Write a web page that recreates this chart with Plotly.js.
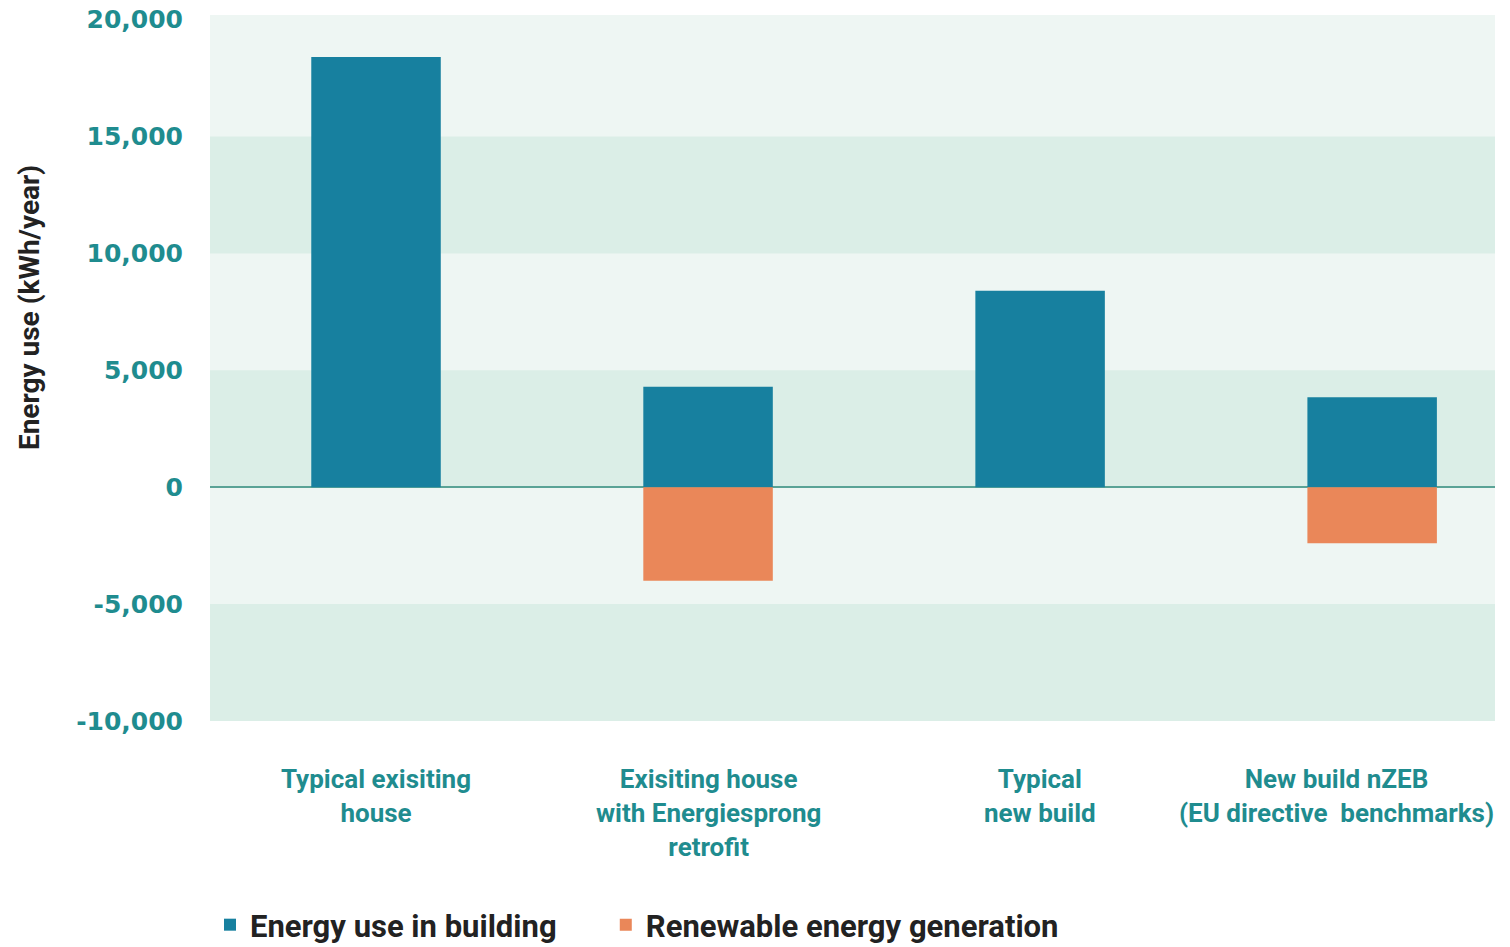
<!DOCTYPE html>
<html>
<head>
<meta charset="utf-8">
<script src="https://cdn.plot.ly/plotly-3.0.1.min.js"></script>
<style>html,body{margin:0;padding:0;background:#fff;}#chart{width:1510px;height:947px;}</style>
</head>
<body>
<div id="chart"></div>
<script>
const categories = ["Typical exisiting<br>house", "Exisiting house<br>with Energiesprong<br>retrofit", "Typical<br>new build", "New build nZEB<br>(EU directive  benchmarks)"];
const energyUse = [18400, 4300, 8400, 3850];
const renewable = [0, -4000, 0, -2400];
const seriesNames = ["Energy use in building", "Renewable energy generation"];
const yTickVals = [-10000, -5000, 0, 5000, 10000, 15000, 20000];
const yTickText = ["-10,000", "-5,000", "0", "5,000", "10,000", "15,000", "20,000"];
const bandEdges = [[10000, 15000], [0, 5000], [-10000, -5000]];

const idx = categories.map((c, i) => i);
const narrow = "Roboto, 'Liberation Sans Narrow', sans-serif";
const teal = "#1f8c8f";

const traces = [
  {type: "bar", name: seriesNames[0], x: idx, y: energyUse, width: 0.39,
   marker: {color: "#17809f"}, hoverinfo: "y", legend: "legend"},
  {type: "bar", name: seriesNames[1], x: idx, y: renewable, width: 0.39,
   marker: {color: "#ea8759"}, hoverinfo: "y", legend: "legend2"}
];

const shapes = bandEdges.map(b => ({type: "rect", xref: "paper", yref: "y", x0: 0, x1: 1,
  y0: b[0], y1: b[1], fillcolor: "#dbeee7", line: {width: 0}, layer: "below"}));

const labelShift = [0, 0, 0, -36];
const catAnnotations = categories.map((c, i) => ({
  text: c, xref: "x", yref: "paper", x: idx[i], y: -0.058, xanchor: "center", yanchor: "top",
  xshift: labelShift[i], showarrow: false, align: "center",
  font: {family: narrow, size: 26, color: teal, weight: "bold"}
}));

const legendFont = {family: narrow, size: 31, color: "#222222", weight: "bold"};

const layout = {
  width: 1510, height: 947,
  margin: {l: 210, r: 15, t: 15, b: 225.5, autoexpand: false},
  paper_bgcolor: "#ffffff",
  plot_bgcolor: "#eef6f3",
  barmode: "relative",
  showlegend: true,
  legend: {orientation: "h", x: 0.0, xanchor: "left", y: -0.289, yanchor: "middle",
    font: legendFont, itemwidth: 30},
  legend2: {orientation: "h", x: 0.308, xanchor: "left", y: -0.289, yanchor: "middle",
    font: legendFont, itemwidth: 30},
  xaxis: {range: [-0.5, 3.37], tickvals: idx, showticklabels: false, showgrid: false,
    zeroline: false, ticks: ""},
  yaxis: {range: [-10000, 20200], tickvals: yTickVals, ticktext: yTickText, showgrid: false,
    zeroline: true, zerolinecolor: "#5aa396", zerolinewidth: 2,
    ticks: "outside", ticklen: 21, tickcolor: "rgba(0,0,0,0)",
    tickfont: {family: "'DejaVu Sans', sans-serif", size: 25, color: teal, weight: "bold"}},
  shapes: shapes,
  annotations: [{text: "Energy use (kWh/year)", xref: "paper", yref: "paper",
    x: -0.14, y: 0.585, xanchor: "center", yanchor: "middle", textangle: -90, showarrow: false,
    font: {family: narrow, size: 28, color: "#222222", weight: "bold"}}].concat(catAnnotations)
};

Plotly.newPlot("chart", traces, layout, {displayModeBar: false, responsive: false});
</script>
</body>
</html>
